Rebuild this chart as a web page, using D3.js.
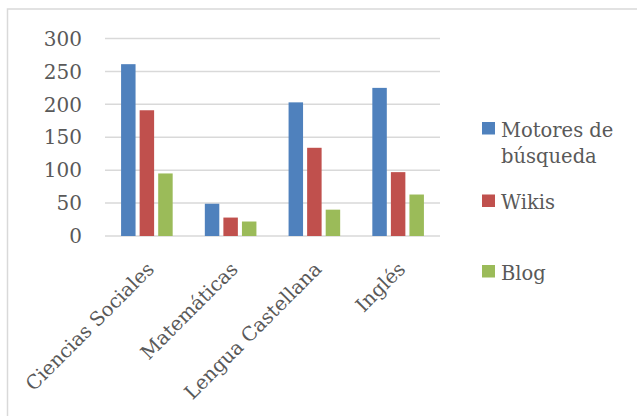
<!DOCTYPE html>
<html>
<head>
<meta charset="utf-8">
<script src="https://cdn.jsdelivr.net/npm/d3@7"></script>
<style>
  body{ margin:0; background:#fff; }
  svg text{ font-family:"DejaVu Serif", serif; fill:#595959; }
</style>
</head>
<body>
<svg id="chart" width="637" height="416"></svg>
<script>
// data
var categories = ["Ciencias Sociales", "Matemáticas", "Lengua Castellana", "Inglés"];
var seriesNames = ["Motores de búsqueda", "Wikis", "Blog"];
var motores = [261, 49, 203, 225];
var wikis = [191, 28, 134, 97];
var blog = [95, 22, 40, 63];
var yTicks = [0, 50, 100, 150, 200, 250, 300];

var colors = ["#4f81bd", "#c0504d", "#9bbb59"];
var values = [motores, wikis, blog];

var svg = d3.select("#chart");

// outer frame, runs off right and bottom edge
svg.append("rect")
    .attr("x", 7.5).attr("y", 9)
    .attr("width", 700).attr("height", 500)
    .attr("fill", "none")
    .attr("stroke", "#d9d9d9")
    .attr("stroke-width", 1.5);

var plotL = 105, plotR = 440, plotT = 38.5, plotB = 236;

var y = d3.scaleLinear().domain([0, 300]).range([plotB, plotT]);
var x = d3.scaleBand().domain(categories).range([plotL, plotR])
    .paddingInner(0.384).paddingOuter(0.192);
var xs = d3.scaleBand().domain(seriesNames).range([0, x.bandwidth()])
    .paddingInner(0.22);

// gridlines
svg.append("g").selectAll("line")
    .data(yTicks)
    .join("line")
    .attr("x1", plotL).attr("x2", plotR)
    .attr("y1", function(d){ return y(d); })
    .attr("y2", function(d){ return y(d); })
    .attr("stroke", "#d9d9d9")
    .attr("stroke-width", 1.5);

// y labels
svg.append("g").selectAll("text")
    .data(yTicks)
    .join("text")
    .attr("x", 82)
    .attr("y", function(d){ return y(d); })
    .attr("dy", "0.36em")
    .attr("text-anchor", "end")
    .style("font-size", "20px")
    .text(function(d){ return d; });

// bars
var groups = svg.append("g").selectAll("g")
    .data(categories)
    .join("g")
    .attr("transform", function(d){ return "translate(" + x(d) + ",0)"; });

groups.selectAll("rect")
    .data(function(c, i){
        return seriesNames.map(function(s, j){ return {s: s, v: values[j][i], c: colors[j]}; });
    })
    .join("rect")
    .attr("x", function(d){ return xs(d.s); })
    .attr("width", xs.bandwidth())
    .attr("y", function(d){ return y(d.v); })
    .attr("height", function(d){ return y(0) - y(d.v); })
    .attr("fill", function(d){ return d.c; });

// category labels, rotated
svg.append("g").selectAll("text")
    .data(categories)
    .join("text")
    .attr("transform", function(d){
        return "translate(" + (x(d) + x.bandwidth() / 2 - 2) + ",260) rotate(-45)";
    })
    .attr("dy", "0.75em")
    .attr("text-anchor", "end")
    .style("font-size", "19.5px")
    .text(function(d){ return d; });

// legend
var legendRows = [
    {name: seriesNames[0], lines: ["Motores de", "búsqueda"], y: 122, color: colors[0]},
    {name: seriesNames[1], lines: ["Wikis"], y: 194.5, color: colors[1]},
    {name: seriesNames[2], lines: ["Blog"], y: 265, color: colors[2]}
];

var lg = svg.append("g").selectAll("g")
    .data(legendRows)
    .join("g")
    .attr("transform", function(d){ return "translate(482," + d.y + ")"; });

lg.append("rect")
    .attr("width", 13).attr("height", 12.5)
    .attr("fill", function(d){ return d.color; });

lg.append("text")
    .attr("x", 19)
    .attr("y", 14.5)
    .style("font-size", "19.5px")
    .selectAll("tspan")
    .data(function(d){ return d.lines; })
    .join("tspan")
    .attr("x", 19)
    .attr("dy", function(d, i){ return i ? 26.6 : 0; })
    .text(function(d){ return d; });
</script>
</body>
</html>
